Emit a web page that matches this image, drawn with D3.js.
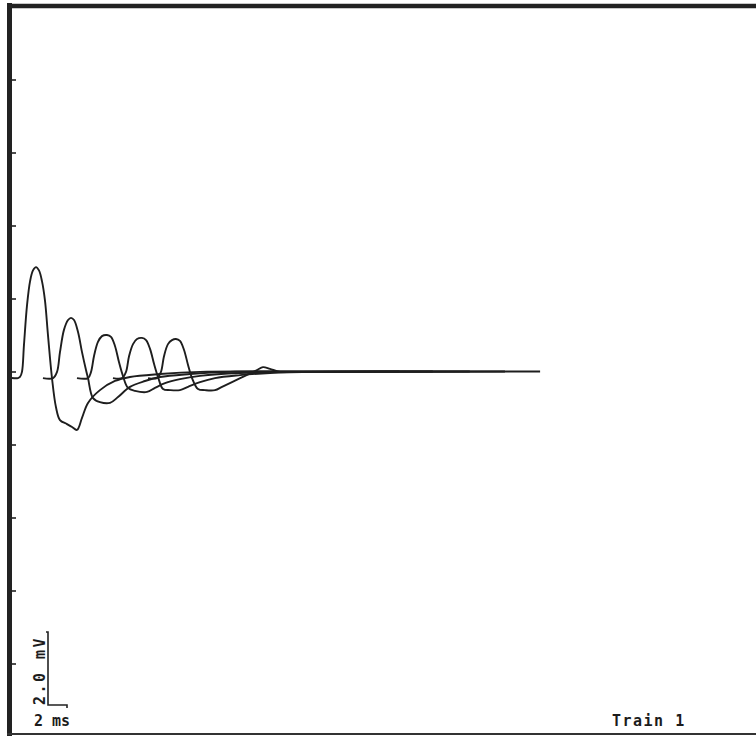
<!DOCTYPE html>
<html>
<head>
<meta charset="utf-8">
<script src="https://cdn.jsdelivr.net/npm/d3@7"></script>
<style>
  body { margin: 0; background: #fff; }
  text { font-family: "DejaVu Sans Mono", "Liberation Mono", monospace; font-weight: bold; fill: #1c1c1c; }
</style>
</head>
<body>
<div id="chart"></div>
<script>
// sweeps of the train, [time ms, amplitude mV]
const sweep1 = [[0.21,-0.18],[0.84,-0.18],[1.05,-0.15],[1.26,-0.01],[1.47,0.73],[1.79,1.81],[2.11,2.47],[2.42,2.77],[2.74,2.86],[3.05,2.77],[3.37,2.47],[3.68,1.95],[4.0,0.99],[4.42,-0.18],[4.84,-0.98],[5.26,-1.33],[6.0,-1.44],[6.53,-1.52],[7.05,-1.6],[7.58,-1.27],[8.21,-0.86],[9.47,-0.51],[11.05,-0.26],[12.63,-0.15],[15.8,-0.07],[20,-0.01],[26.3,0],[41,0]];
const sweep2 = [[3.47,-0.18],[4.53,-0.18],[4.95,-0.01],[5.26,0.53],[5.68,1.14],[6.11,1.41],[6.42,1.47],[6.74,1.41],[7.16,1.08],[7.58,0.53],[8.0,0.04],[8.21,-0.18],[8.74,-0.73],[9.47,-0.84],[10.53,-0.86],[11.37,-0.7],[12.63,-0.42],[14.21,-0.26],[15.79,-0.15],[18.95,-0.07],[23.16,-0.01],[30.5,0],[44.5,0]];
const sweep3 = [[7.05,-0.18],[8.21,-0.18],[8.53,-0.01],[8.84,0.42],[9.26,0.81],[9.68,0.97],[10.21,1.0],[10.63,0.95],[11.05,0.7],[11.47,0.26],[11.89,-0.12],[12.42,-0.45],[13.16,-0.53],[14.42,-0.56],[15.26,-0.45],[16.32,-0.32],[17.89,-0.21],[20.0,-0.12],[24.21,-0.04],[30.5,-0.01],[48.4,0]];
const sweep4 = [[10.84,-0.18],[11.79,-0.18],[12.21,-0.01],[12.53,0.42],[12.95,0.75],[13.37,0.89],[13.89,0.92],[14.32,0.86],[14.74,0.62],[15.16,0.21],[15.58,-0.15],[16.11,-0.48],[16.84,-0.51],[17.89,-0.51],[18.74,-0.42],[20.0,-0.29],[21.58,-0.18],[24.21,-0.1],[27.37,-0.04],[32.6,-0.01],[52.1,0]];
const sweep5 = [[14.53,-0.18],[15.47,-0.18],[15.89,-0.01],[16.21,0.42],[16.63,0.75],[17.05,0.86],[17.47,0.89],[17.89,0.84],[18.32,0.59],[18.74,0.18],[19.16,-0.18],[19.79,-0.48],[20.53,-0.51],[21.58,-0.51],[22.32,-0.42],[23.37,-0.29],[24.74,-0.12],[26.0,0.04],[26.63,0.12],[27.37,0.07],[28.42,-0.01],[30.5,-0.01],[55.8,0]];

const yTicks = [-8, -6, -4, -2, 0, 2, 4, 6, 8];
const barMs = 2;     // horizontal calibration
const barMv = 2;     // vertical calibration
const voltLabel = "2.0 mV";
const timeLabel = "2 ms";
const trainLabel = "Train 1";

const width = 756, height = 736;

const svg = d3.select("#chart").append("svg")
  .attr("width", width)
  .attr("height", height);

// 2 mV per division, 10 divisions each way of the baseline
const x = d3.scaleLinear().domain([0, 78]).range([10, 751]);
const y = d3.scaleLinear().domain([-10, 10]).range([736.5, 6.5]);

// frame
svg.append("line").attr("x1", 9.5).attr("x2", 9.5).attr("y1", 3).attr("y2", 736)
  .attr("stroke", "#222").attr("stroke-width", 5);
svg.append("line").attr("x1", 7).attr("x2", 756).attr("y1", 6).attr("y2", 6)
  .attr("stroke", "#222").attr("stroke-width", 4.5);
svg.append("line").attr("x1", 7).attr("x2", 756).attr("y1", 734).attr("y2", 734)
  .attr("stroke", "#333").attr("stroke-width", 2);

// division ticks on the left edge
const yAxis = svg.append("g")
  .attr("transform", "translate(12,0)")
  .call(d3.axisRight(y).tickValues(yTicks).tickSize(4).tickFormat(""));
yAxis.select(".domain").remove();
yAxis.selectAll(".tick line").attr("stroke", "#222").attr("stroke-width", 1.6);

// traces
const line = d3.line()
  .x(d => x(d[0]))
  .y(d => y(d[1]))
  .curve(d3.curveCatmullRom.alpha(0.5));

svg.append("g").selectAll("path")
  .data([sweep1, sweep2, sweep3, sweep4, sweep5])
  .enter().append("path")
  .attr("d", line)
  .attr("fill", "none")
  .attr("stroke", "#1e1e1e")
  .attr("stroke-width", 1.9)
  .attr("stroke-linejoin", "round");

// calibration bar
const x0 = 48, yBase = 705;
const barW = x(barMs) - x(0);
const barH = y(0) - y(barMv);
svg.append("path")
  .attr("d", `M${x0 - 2},${yBase - barH} H${x0} V${yBase} H${x0 + barW} v3`)
  .attr("fill", "none")
  .attr("stroke", "#222")
  .attr("stroke-width", 1.6);

svg.append("text")
  .attr("transform", `translate(45,${yBase - barH / 2 + 2}) rotate(-90)`)
  .attr("text-anchor", "middle")
  .style("font-size", "15px")
  .style("letter-spacing", "2.5px")
  .text(voltLabel);

svg.append("text")
  .attr("x", 34).attr("y", 726)
  .style("font-size", "15px")
  .text(timeLabel);

svg.append("text")
  .attr("x", 612).attr("y", 726)
  .style("font-size", "15px")
  .style("letter-spacing", "1.5px")
  .text(trainLabel);
</script>
</body>
</html>
